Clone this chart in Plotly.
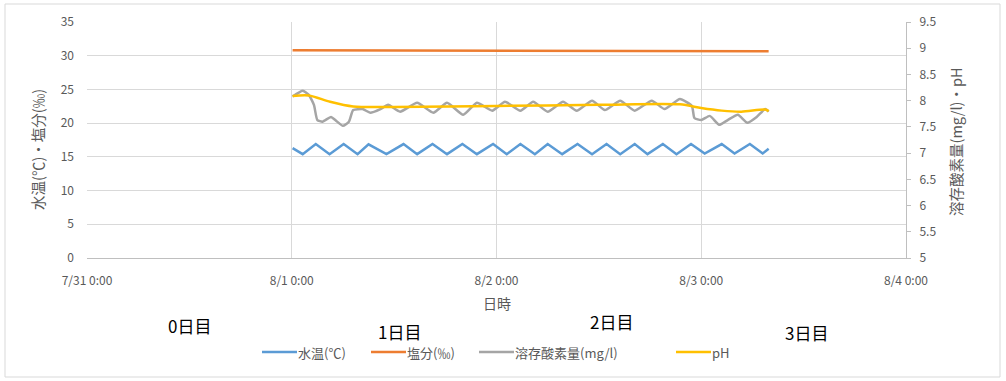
import pandas as pd
import plotly.graph_objects as go
from plotly.subplots import make_subplots

# --- data -----------------------------------------------------------------
temp_time = [
    "2019-08-01 00:06", "2019-08-01 01:17", "2019-08-01 02:49", "2019-08-01 04:26",
    "2019-08-01 06:05", "2019-08-01 07:43", "2019-08-01 09:00", "2019-08-01 11:06",
    "2019-08-01 13:06", "2019-08-01 14:42", "2019-08-01 16:30", "2019-08-01 18:12",
    "2019-08-01 20:00", "2019-08-01 21:42", "2019-08-01 23:36", "2019-08-02 01:12",
    "2019-08-02 02:48", "2019-08-02 04:30", "2019-08-02 06:00", "2019-08-02 07:42",
    "2019-08-02 09:30", "2019-08-02 11:12", "2019-08-02 12:54", "2019-08-02 14:30",
    "2019-08-02 16:12", "2019-08-02 17:42", "2019-08-02 19:30", "2019-08-02 21:06",
    "2019-08-02 22:48", "2019-08-03 00:24", "2019-08-03 02:24", "2019-08-03 03:54",
    "2019-08-03 05:42", "2019-08-03 07:12", "2019-08-03 07:54",
]
temp_val = [
    16.3, 15.4, 16.9, 15.4, 16.9, 15.4, 16.85, 15.4, 16.9, 15.4, 16.9, 15.4,
    16.9, 15.4, 16.9, 15.4, 16.9, 15.4, 16.9, 15.4, 16.9, 15.4, 16.9, 15.4,
    16.9, 15.4, 16.9, 15.4, 16.9, 15.5, 16.9, 15.5, 16.9, 15.5, 16.2,
]

salt_time = ["2019-08-01 00:06", "2019-08-02 00:00", "2019-08-02 16:00", "2019-08-03 07:54"]
salt_val = [30.8, 30.75, 30.7, 30.65]

do_time = [
    "2019-08-01 00:06", "2019-08-01 01:18", "2019-08-01 02:00", "2019-08-01 02:36",
    "2019-08-01 03:00", "2019-08-01 03:36", "2019-08-01 04:36", "2019-08-01 05:06",
    "2019-08-01 06:00", "2019-08-01 06:42", "2019-08-01 07:12", "2019-08-01 08:18",
    "2019-08-01 09:12", "2019-08-01 10:24", "2019-08-01 11:18", "2019-08-01 12:42",
    "2019-08-01 14:42", "2019-08-01 16:36", "2019-08-01 18:12", "2019-08-01 20:06",
    "2019-08-01 21:42", "2019-08-01 23:30", "2019-08-02 01:00", "2019-08-02 02:48",
    "2019-08-02 04:18", "2019-08-02 06:00", "2019-08-02 07:48", "2019-08-02 09:24",
    "2019-08-02 11:12", "2019-08-02 12:42", "2019-08-02 14:30", "2019-08-02 16:12",
    "2019-08-02 18:12", "2019-08-02 19:42", "2019-08-02 21:30", "2019-08-02 22:54",
    "2019-08-02 23:12", "2019-08-03 00:00", "2019-08-03 01:00", "2019-08-03 02:06",
    "2019-08-03 03:06", "2019-08-03 04:18", "2019-08-03 05:24", "2019-08-03 06:30",
    "2019-08-03 07:30", "2019-08-03 07:54",
]
do_val = [
    8.08, 8.19, 8.11, 7.92, 7.63, 7.60, 7.69, 7.63, 7.52, 7.60, 7.82, 7.84,
    7.77, 7.84, 7.92, 7.79, 7.96, 7.77, 7.96, 7.73, 7.96, 7.81, 7.98, 7.81,
    7.98, 7.79, 7.98, 7.81, 8.00, 7.82, 8.00, 7.81, 8.00, 7.84, 8.03, 7.90,
    7.67, 7.63, 7.71, 7.54, 7.63, 7.73, 7.58, 7.69, 7.84, 7.79,
]

ph_time = [
    "2019-08-01 00:06", "2019-08-01 02:00", "2019-08-01 04:30", "2019-08-01 07:12",
    "2019-08-01 12:00", "2019-08-02 00:00", "2019-08-02 12:00", "2019-08-02 21:30",
    "2019-08-03 00:00", "2019-08-03 02:24", "2019-08-03 04:42", "2019-08-03 07:30",
    "2019-08-03 07:54",
]
ph_val = [8.09, 8.10, 7.98, 7.89, 7.88, 7.90, 7.92, 7.93, 7.86, 7.81, 7.79, 7.83, 7.80]

x_tick_dates = ["2019-07-31", "2019-08-01", "2019-08-02", "2019-08-03", "2019-08-04"]
x_tick_text = ["7/31 0:00", "8/1 0:00", "8/2 0:00", "8/3 0:00", "8/4 0:00"]
y1_ticks = [0, 5, 10, 15, 20, 25, 30, 35]
y2_ticks = [5, 5.5, 6, 6.5, 7, 7.5, 8, 8.5, 9, 9.5]
y2_text = ["5", "5.5", "6", "6.5", "7", "7.5", "8", "8.5", "9", "9.5"]

series_names = ["水温(℃)", "塩分(‰)", "溶存酸素量(mg/l)", "pH"]
series_colors = ["#5B9BD5", "#ED7D31", "#A5A5A5", "#FFC000"]
day_labels = ["0日目", "1日目", "2日目", "3日目"]

# --- styling -------------------------------------------------------------
FONT = "Noto Sans CJK JP"
TXT = "#595959"
GRID = "#d9d9d9"
AXIS = "#bfbfbf"

# plot area in pixels (figure 1006 x 381)
L, R, T, B = 87, 906, 22, 258
W, H = 1006, 381


def px_x(px):
    return (px - L) / (R - L)


def px_y(py):
    return (B - py) / (B - T)


fig = make_subplots(specs=[[{"secondary_y": True}]])

fig.add_trace(go.Scatter(x=pd.to_datetime(temp_time), y=temp_val, name=series_names[0],
                         mode="lines", line=dict(color=series_colors[0], width=2.5)),
              secondary_y=False)
fig.add_trace(go.Scatter(x=pd.to_datetime(salt_time), y=salt_val, name=series_names[1],
                         mode="lines", line=dict(color=series_colors[1], width=2.5)),
              secondary_y=False)
fig.add_trace(go.Scatter(x=pd.to_datetime(do_time), y=do_val, name=series_names[2],
                         mode="lines", line=dict(color=series_colors[2], width=2.5,
                                                 shape="spline", smoothing=0.5)),
              secondary_y=True)
fig.add_trace(go.Scatter(x=pd.to_datetime(ph_time), y=ph_val, name=series_names[3],
                         mode="lines", line=dict(color=series_colors[3], width=2.5,
                                                 shape="spline", smoothing=0.8)),
              secondary_y=True)

fig.update_xaxes(
    type="date", domain=[0, 1],
    range=[x_tick_dates[0], x_tick_dates[-1]],
    tickmode="array", tickvals=x_tick_dates, ticktext=x_tick_text,
    showgrid=True, gridcolor=GRID, gridwidth=1,
    showline=True, linecolor=AXIS, linewidth=1,
    ticks="", ticklabelstandoff=12,
    tickfont=dict(family=FONT, size=12, color=TXT),
)
fig.update_yaxes(
    range=[0, 35], tickmode="array", tickvals=y1_ticks,
    showgrid=True, gridcolor=GRID, gridwidth=1, zeroline=False,
    showline=False, ticks="", ticklabelstandoff=12,
    tickfont=dict(family=FONT, size=12, color=TXT),
    secondary_y=False,
)
fig.update_yaxes(
    range=[5, 9.5], tickmode="array", tickvals=y2_ticks, ticktext=y2_text,
    showgrid=False, zeroline=False,
    showline=True, linecolor=AXIS, linewidth=1,
    ticks="outside", ticklen=4, tickcolor=AXIS, ticklabelstandoff=6,
    tickfont=dict(family=FONT, size=12, color=TXT),
    secondary_y=True,
)

annotations = [
    dict(text="日時", x=px_x(497), y=px_y(303), font=dict(size=14, color=TXT)),
    dict(text="水温(℃)・塩分(‰)", x=px_x(37), y=px_y(150), textangle=-90,
         font=dict(size=14.5, color=TXT)),
    dict(text="溶存酸素量(mg/l)・pH", x=px_x(955), y=px_y(142), textangle=-90,
         font=dict(size=14.5, color=TXT)),
]
day_pos = [(189, 325), (399, 331), (611, 321), (806, 332)]
for label, (dx, dy) in zip(day_labels, day_pos):
    annotations.append(dict(text=label, x=px_x(dx), y=px_y(dy),
                            font=dict(size=17, color="#000000")))

# legend row: short coloured line followed by the series name
shapes = [dict(type="rect", xref="paper", yref="paper",
               x0=px_x(5), x1=px_x(1000), y0=px_y(377), y1=px_y(4),
               line=dict(color=GRID, width=1), fillcolor="rgba(0,0,0,0)",
               layer="below")]
legend_y = 352
legend_start = [262, 371, 479, 676]
for name, color, x0 in zip(series_names, series_colors, legend_start):
    shapes.append(dict(type="line", xref="paper", yref="paper",
                       x0=px_x(x0), x1=px_x(x0 + 35),
                       y0=px_y(legend_y), y1=px_y(legend_y),
                       line=dict(color=color, width=2.5)))
    annotations.append(dict(text=name, x=px_x(x0 + 34), y=px_y(legend_y),
                            xanchor="left", font=dict(size=13, color=TXT)))

for a in annotations:
    a.setdefault("xanchor", "center")
    a.update(xref="paper", yref="paper", showarrow=False, yanchor="middle")
    a["font"]["family"] = FONT

fig.update_layout(
    width=W, height=H,
    margin=dict(l=L, r=W - R, t=T, b=H - B),
    paper_bgcolor="white", plot_bgcolor="white",
    font=dict(family=FONT, color=TXT),
    showlegend=False,
    annotations=annotations,
    shapes=shapes,
)

fig.write_html("out.html")
